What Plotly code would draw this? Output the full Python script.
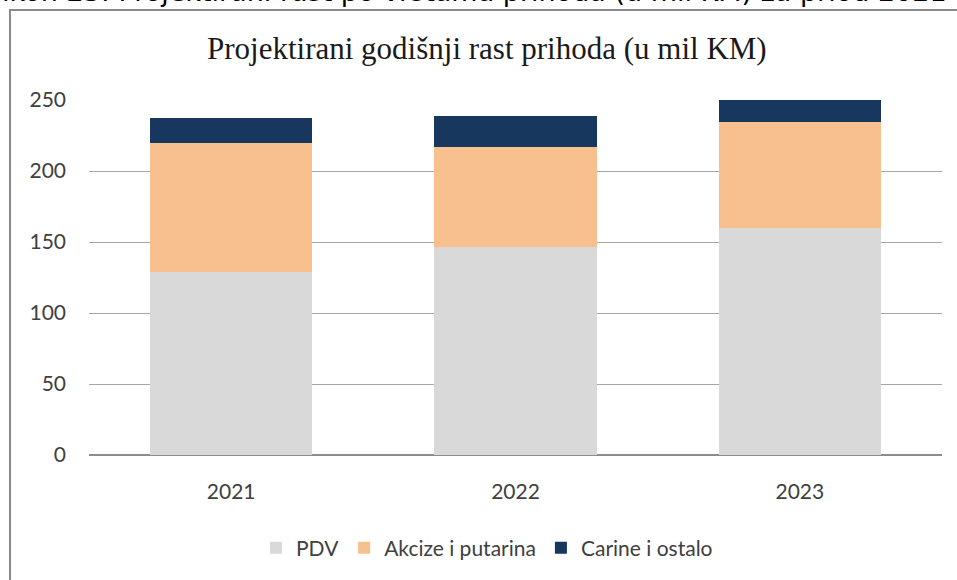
import plotly.graph_objects as go

years = ["2021", "2022", "2023"]
pdv = [129, 146.5, 160]
akcize = [91, 70.5, 74.5]
carine = [17.5, 22, 15.5]
series_names = ["PDV", "Akcize i putarina", "Carine i ostalo"]
series_colors = ["#d9d9d9", "#f9c08f", "#17375e"]
y_ticks = [0, 50, 100, 150, 200, 250]

W, H = 957, 580
L, R, T, B = 89, 15, 100, 125
PW, PH = W - L - R, H - T - B

def px_x(p):
    return (p - L) / PW

def px_y(p):
    return (H - B - p) / PH

fig = go.Figure()
for name, vals, col in zip(series_names, [pdv, akcize, carine], series_colors):
    fig.add_trace(go.Bar(x=years, y=vals, name=name, marker=dict(color=col, line=dict(width=0))))

fig.update_layout(
    width=W, height=H,
    margin=dict(l=L, r=R, t=T, b=B),
    barmode="stack",
    bargap=0.43,
    paper_bgcolor="white",
    plot_bgcolor="white",
    font=dict(family="Lato", size=21, color="#404040"),
    showlegend=True,
    legend=dict(orientation="h", x=px_x(487), xanchor="center", y=px_y(548), yanchor="middle",
                font=dict(family="Lato", size=21, color="#404040"),
                itemwidth=30, traceorder="normal"),
    xaxis=dict(showgrid=False, showline=False, ticks="", ticklabelstandoff=22,
               tickfont=dict(family="Lato", size=21, color="#404040")),
    yaxis=dict(range=[0, 250], tickvals=y_ticks, showgrid=True, gridcolor="#a6a6a6", gridwidth=1,
               zeroline=True, zerolinecolor="#8c8c8c", zerolinewidth=1.5, showline=False,
               ticks="", ticklabelstandoff=22,
               tickfont=dict(family="Lato", size=21, color="#404040")),
    annotations=[
        dict(text="Projektirani godišnji rast prihoda (u mil KM)", xref="paper", yref="paper",
             x=px_x(487), y=px_y(49), xanchor="center", yanchor="middle", showarrow=False,
             font=dict(family="Liberation Serif", size=31, color="#1a1a1a")),
        dict(text="ikon 23: Projektirani rast po vrstama prihoda (u mil KM) za priod 2021", xref="paper", yref="paper",
             x=px_x(0), y=px_y(9), xanchor="left", yanchor="bottom", showarrow=False,
             font=dict(family="DejaVu Sans", size=27, color="#000000")),
    ],
    shapes=[
        dict(type="rect", xref="paper", yref="paper", x0=px_x(10), y0=px_y(H + 20), x1=px_x(W + 20), y1=px_y(10),
             line=dict(color="#8a8a8a", width=2), fillcolor="rgba(0,0,0,0)", layer="below"),
    ],
)

fig.write_html("out.html", config={"displayModeBar": False},
               post_script="document.body.style.margin='0';document.body.style.overflow='hidden';")
